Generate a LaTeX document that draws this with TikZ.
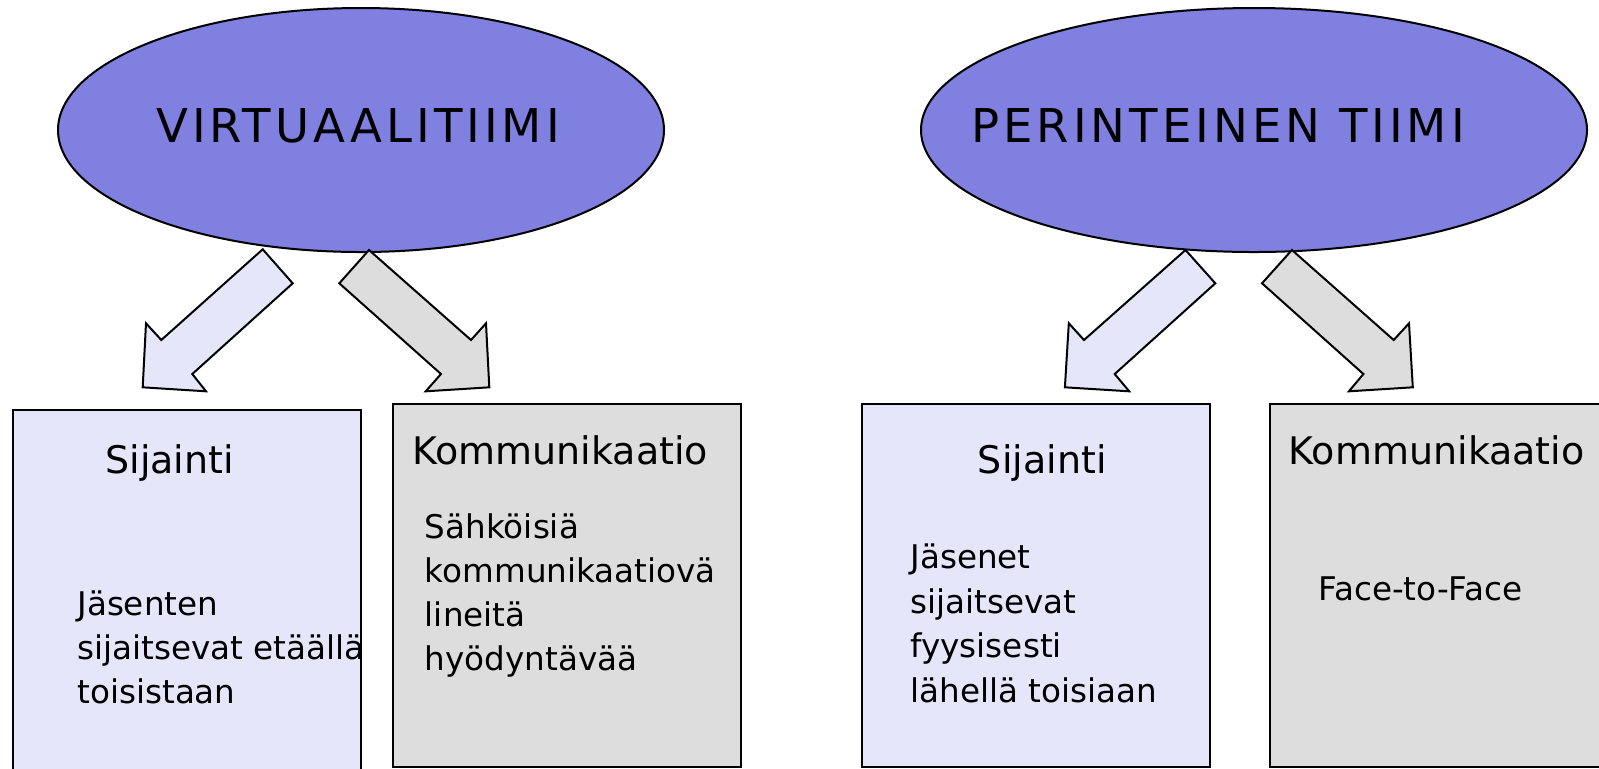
\documentclass[tikz,border=0pt]{standalone}
\usepackage{fontspec}
\setmainfont{DejaVu Sans}
\newfontfamily\teamfont[LetterSpace=8.5]{DejaVu Sans}
\usetikzlibrary{shapes.geometric}
\definecolor{teamblue}{RGB}{128,128,224}
\definecolor{lavender}{RGB}{230,230,250}
\definecolor{boxgray}{RGB}{221,221,221}
\tikzset{
  team/.style={ellipse, draw=black, line width=1pt, fill=teamblue,
    minimum height=122pt, inner sep=0pt},
  teamlabel/.style={anchor=base west, inner sep=0pt,
    font={\teamfont\fontsize{23.3}{28}\selectfont}},
  infobox/.style={draw=black, line width=1pt, anchor=north west,
    minimum width=174pt, inner sep=0pt},
  head/.style={anchor=base west, inner sep=0pt,
    font={\fontsize{19}{22}\selectfont}},
  body/.style={anchor=base west, inner sep=0pt,
    font={\fontsize{16.3}{22}\selectfont}},
  fatarrow/.style={draw=black, line width=1pt, line join=miter},
}
\begin{document}
\begin{tikzpicture}[x=0.5pt, y=-0.5pt]
    \clip (0,0) rectangle (1599,768);

    % the two teams
    \node [team, minimum width=303pt] (virt) at (361,130) {};
    \node [team, minimum width=333pt] (peri) at (1254,130) {};
    \node [teamlabel] (virt-t) at (156,142.3) {VIRTUAALITIIMI};
    \node [teamlabel] (peri-t) at (971,142.3) {PERINTEINEN TIIMI};

    % arrows
    \draw [fatarrow, fill=lavender] (262.7,249.3) -- (292.7,283.3) -- (192.3,374)
      -- (206,391.3) -- (142.7,387.3) -- (146,323.3) -- (161.3,340) -- cycle;
    \draw [fatarrow, fill=boxgray] (369,250) -- (339.3,283.3) -- (441,374)
      -- (425.7,391.3) -- (489.3,387.3) -- (486,323.3) -- (471,340) -- cycle;
    \draw [fatarrow, fill=lavender] (1185.5,250) -- (1215.3,283.3) -- (1114.7,374)
      -- (1129.2,391.3) -- (1064.9,387.3) -- (1068.8,323.3) -- (1084,340) -- cycle;
    \draw [fatarrow, fill=boxgray] (1291.9,250) -- (1262,283.3) -- (1363.4,374)
      -- (1348.9,391.3) -- (1412.8,387.3) -- (1409,323.3) -- (1393.7,340) -- cycle;

    % boxes
    \node [infobox, fill=lavender, minimum height=196pt] (vsij) at (12,409) {};
    \node [infobox, fill=boxgray, minimum height=181.5pt] (vkom) at (392,403) {};
    \node [infobox, fill=lavender, minimum height=181.5pt] (psij) at (861,403) {};
    \node [infobox, fill=boxgray, minimum height=181.5pt, minimum width=185pt] (pkom) at (1269,403) {};

    \node [head] (vsij-h) at (105,473.3) {Sijainti};
    \node [head] (vkom-h) at (412,464) {Kommunikaatio};
    \node [head] (psij-h) at (977.5,473.3) {Sijainti};
    \node [head] (pkom-h) at (1288.5,464) {Kommunikaatio};

    \foreach \txt [count=\i] in {Jäsenten, sijaitsevat etäällä, toisistaan}
      \node [body] (vsij-\i) at (77,{615+44*(\i-1)}) {\txt};
    \foreach \txt [count=\i] in {Sähköisiä, kommunikaatiovä, lineitä, hyödyntävää}
      \node [body] (vkom-\i) at (424.5,{538.3+44*(\i-1)}) {\txt};
    \foreach \txt [count=\i] in {Jäsenet, sijaitsevat, fyysisesti, lähellä toisiaan}
      \node [body] (psij-\i) at (910,{568.3+44.8*(\i-1)}) {\txt};
    \node [body] (pkom-1) at (1318,600) {Face-to-Face};
\end{tikzpicture}
\end{document}
